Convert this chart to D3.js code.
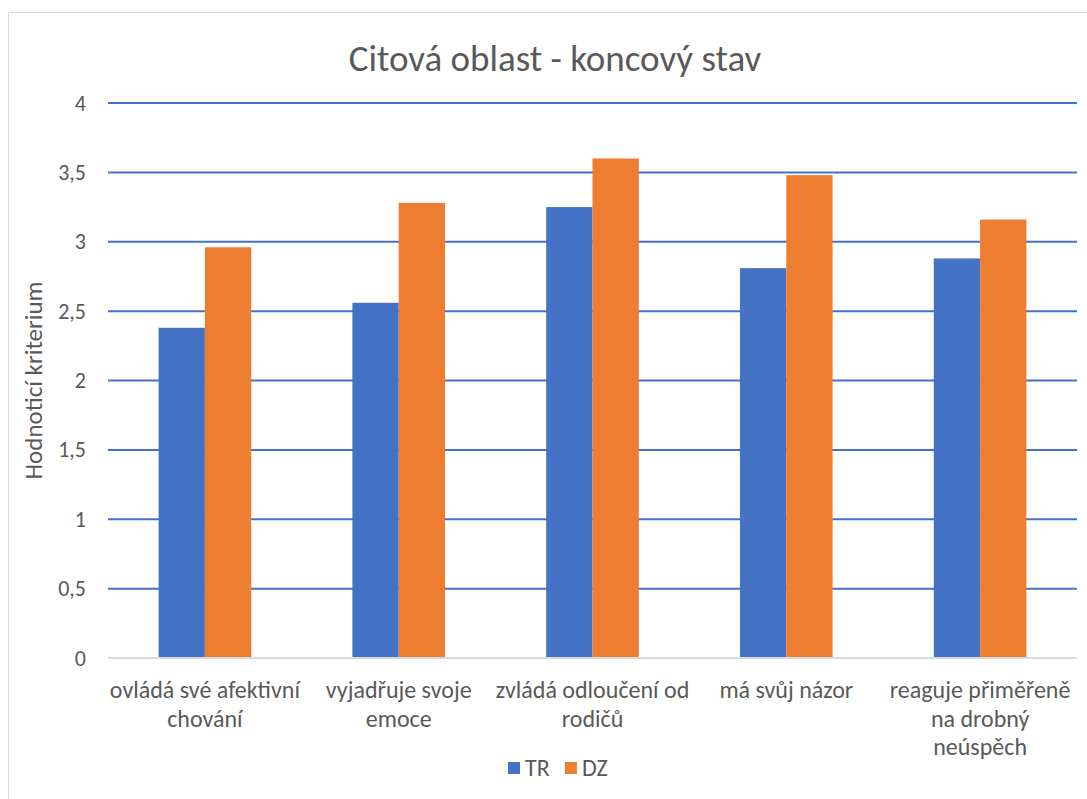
<!DOCTYPE html>
<html>
<head>
<meta charset="utf-8">
<script src="https://cdn.jsdelivr.net/npm/d3@7"></script>
<style>
  html, body { margin: 0; padding: 0; background: #fff; }
  svg { display: block; }
  text { font-family: Carlito, Lato, "Open Sans", sans-serif; fill: #595959; }
</style>
</head>
<body>
<svg id="chart" width="1087" height="799"></svg>
<script>
const chartTitle = "Citová oblast - koncový stav";
const yAxisTitle = "Hodnoticí kriterium";
const categories = [
  "ovládá své afektivní\nchování",
  "vyjadřuje svoje\nemoce",
  "zvládá odloučení od\nrodičů",
  "má svůj názor",
  "reaguje přiměřeně\nna drobný\nneúspěch"
];
const seriesNames = ["TR", "DZ"];
const trValues = [2.38, 2.56, 3.25, 2.81, 2.88];
const dzValues = [2.96, 3.28, 3.60, 3.48, 3.16];
const yTicks = [0, 0.5, 1, 1.5, 2, 2.5, 3, 3.5, 4];
const seriesColors = ["#4472C4", "#ED7D31"];

const svg = d3.select("#chart");
const W = 1087, H = 799;
const plot = { left: 108, right: 1077, top: 103, bottom: 658 };

// chart frame
svg.append("rect")
  .attr("x", 8.5).attr("y", 12.5)
  .attr("width", W + 10).attr("height", H + 10)
  .attr("fill", "#fff").attr("stroke", "#d9d9d9").attr("stroke-width", 1);

const x0 = d3.scaleBand().domain(categories).range([plot.left, plot.right]).paddingInner(0).paddingOuter(0);
const x1 = d3.scaleBand().domain(seriesNames).range([0, x0.bandwidth()]).paddingInner(0).paddingOuter(1.093);
const y = d3.scaleLinear().domain([0, 4]).range([plot.bottom, plot.top]);
const color = d3.scaleOrdinal().domain(seriesNames).range(seriesColors);

// gridlines
svg.append("g").selectAll("line")
  .data(yTicks.filter(d => d > 0))
  .join("line")
  .attr("x1", plot.left).attr("x2", plot.right)
  .attr("y1", d => y(d)).attr("y2", d => y(d))
  .attr("stroke", "#4472C4").attr("stroke-width", 2);

// bars
const rows = categories.map((c, i) => ({ cat: c, vals: [
  { s: "TR", v: trValues[i] }, { s: "DZ", v: dzValues[i] }
]}));
const groups = svg.append("g").selectAll("g").data(rows).join("g")
  .attr("transform", d => `translate(${x0(d.cat)},0)`);
groups.selectAll("rect").data(d => d.vals).join("rect")
  .attr("x", d => x1(d.s))
  .attr("width", x1.bandwidth())
  .attr("y", d => y(d.v))
  .attr("height", d => y(0) - y(d.v))
  .attr("fill", d => color(d.s));

// zero axis line
svg.append("line")
  .attr("x1", plot.left).attr("x2", plot.right)
  .attr("y1", y(0)).attr("y2", y(0))
  .attr("stroke", "#d9d9d9").attr("stroke-width", 2);

// y axis
const yAxis = d3.axisLeft(y).tickValues(yTicks)
  .tickFormat(d => String(d).replace(".", ","))
  .tickSize(0).tickPadding(22);
const gy = svg.append("g").attr("transform", `translate(${plot.left},0)`).call(yAxis);
gy.select(".domain").remove();
gy.selectAll("text").style("font-family", null).attr("font-size", 22).attr("fill", "#595959");

// x axis labels
const xAxis = d3.axisBottom(x0).tickSize(0).tickFormat(() => "");
const gx = svg.append("g").attr("transform", `translate(0,${plot.bottom})`).call(xAxis);
gx.select(".domain").remove();
gx.selectAll(".tick").each(function(d) {
  const t = d3.select(this).select("text")
    .attr("y", 0).attr("dy", null)
    .attr("font-size", 24).attr("fill", "#595959").attr("text-anchor", "middle");
  d.split("\n").forEach((line, i) => {
    t.append("tspan").attr("x", 0).attr("y", 40 + i * 28.5).text(line);
  });
});

// title
svg.append("text")
  .attr("x", 555).attr("y", 71)
  .attr("text-anchor", "middle")
  .attr("font-size", 37)
  .text(chartTitle);

// y axis title
svg.append("text")
  .attr("transform", `translate(42,${(plot.top + plot.bottom) / 2}) rotate(-90)`)
  .attr("text-anchor", "middle")
  .attr("font-size", 25)
  .text(yAxisTitle);

// legend
const legend = svg.append("g").attr("transform", "translate(508,762)");
const li = legend.selectAll("g").data(seriesNames).join("g")
  .attr("transform", (d, i) => `translate(${i * 57},0)`);
li.append("rect").attr("width", 12).attr("height", 12).attr("fill", d => color(d));
li.append("text").attr("x", 17).attr("y", 14).attr("font-size", 24).text(d => d);
</script>
</body>
</html>
